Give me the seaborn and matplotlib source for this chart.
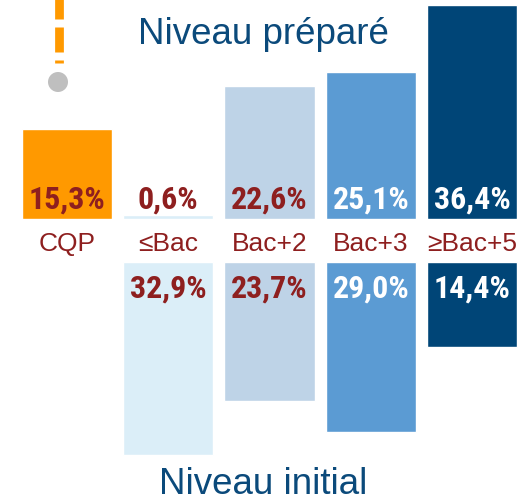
import matplotlib
matplotlib.use("Agg")
import matplotlib.pyplot as plt
import seaborn as sns
import pandas as pd
from matplotlib import font_manager as fm
from matplotlib.lines import Line2D
from matplotlib.patches import Circle

categories = ["CQP", "≤Bac", "Bac+2", "Bac+3", "≥Bac+5"]
prepare_values = [15.3, 0.6, 22.6, 25.1, 36.4]
initial_categories = ["≤Bac", "Bac+2", "Bac+3", "≥Bac+5"]
initial_values = [32.9, 23.7, 29.0, 14.4]
prepare_labels = ["15,3%", "0,6%", "22,6%", "25,1%", "36,4%"]
initial_labels = ["32,9%", "23,7%", "29,0%", "14,4%"]

colors = ["#FF9900", "#DBEEF8", "#BED3E7", "#5B9BD3", "#004577"]
label_colors = ["#8E1F1F", "#8E1F1F", "#8E1F1F", "white", "white"]
red = "#8E1F1F"
blue_title = "#0B4A7B"

sns.set_theme(style="white")
plt.rcParams["font.family"] = ["Liberation Sans", "DejaVu Sans"]

available = {f.name for f in fm.fontManager.ttflist}
narrow_choice = [n for n in ["Liberation Sans Narrow", "Arial Narrow",
                             "Roboto Condensed", "Archivo Narrow",
                             "PT Sans Narrow", "Liberation Sans"]
                 if n in available]
narrow = narrow_choice[:1] + ["DejaVu Sans"]

W, H = 532, 502
fig = plt.figure(figsize=(W / 100, H / 100), dpi=100)

pxpp = 5.87  # pixels per percent
x0 = 67.0
pitch = 101.25
xlim = (-x0 / pitch, (W - x0) / pitch)

# top axes
top_base = 220
ax_t = fig.add_axes([0, (H - top_base) / H, 1, top_base / H])
df_t = pd.DataFrame({"cat": categories, "val": prepare_values})
sns.barplot(data=df_t, x="cat", y="val", hue="cat", order=categories,
            hue_order=categories, palette=colors, width=0.89, legend=False,
            saturation=1, ax=ax_t)
ax_t.set_xlim(*xlim)
ax_t.set_ylim(0, top_base / pxpp)

# bottom axes
bot_base = 263
ax_b = fig.add_axes([0, 0, 1, (H - bot_base) / H])
df_b = pd.DataFrame({"cat": initial_categories, "val": initial_values})
sns.barplot(data=df_b, x="cat", y="val", hue="cat", order=categories,
            hue_order=categories, palette=colors, width=0.89, legend=False,
            saturation=1, ax=ax_b)
ax_b.set_xlim(*xlim)
ax_b.set_ylim((H - bot_base) / pxpp, 0)

for ax in (ax_t, ax_b):
    ax.set_axis_off()

for i, (lab, c) in enumerate(zip(prepare_labels, label_colors)):
    ax_t.text(i, 20 / pxpp, lab, ha="center", va="center", fontsize=23,
              fontweight="bold", color=c, family=narrow)
for i, cat in enumerate(categories):
    ax_t.text(i, -24 / pxpp, cat, ha="center", va="center", fontsize=19,
              color=red, clip_on=False)
for cat, lab in zip(initial_categories, initial_labels):
    i = categories.index(cat)
    ax_b.text(i, 26 / pxpp, lab, ha="center", va="center", fontsize=23,
              fontweight="bold", color=label_colors[i], family=narrow)

fig.text(263 / W, 1 - 44 / H, "Niveau préparé", ha="center", va="baseline",
         fontsize=26.5, color=blue_title)
fig.text(263 / W, 1 - 494 / H, "Niveau initial", ha="center", va="baseline",
         fontsize=26.5, color=blue_title)

# decorative dashed marker and circle (pixel positions -> inches)
tr = fig.dpi_scale_trans
xm = 58.5 / 100
for y1, y2 in [(0, 20), (28, 53), (61, 64)]:
    fig.add_artist(Line2D([xm, xm], [(H - y1) / 100, (H - y2) / 100],
                          transform=tr, color="#FF9900", lw=6.3,
                          solid_capstyle="butt"))
fig.add_artist(Circle((58 / 100, (H - 83) / 100), 10 / 100, transform=tr,
                      color="#BFBFBF", lw=0))

fig.savefig("out.png", dpi=100)
